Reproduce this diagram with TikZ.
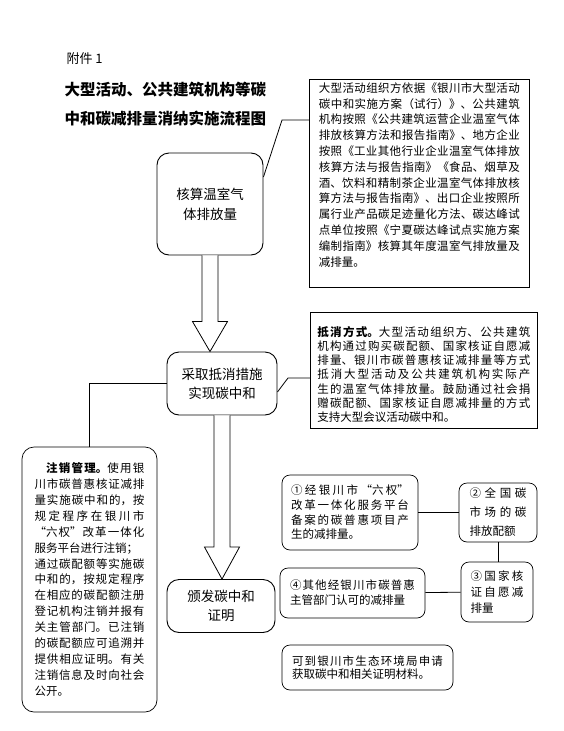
\documentclass[tikz,border=0pt]{standalone}
\usepackage{fontspec}
\setmainfont{Noto Sans CJK SC}
\usetikzlibrary{calc}

\XeTeXlinebreaklocale "zh"
\XeTeXlinebreakskip=0pt plus 1pt

\newcommand\notefont[1]{\fontsize{11.5}{#1}\selectfont}
\newcommand\padbottom[1]{\par\vskip#1\hrule height 0pt width 0pt}

\begin{document}
\begin{tikzpicture}[x=1pt, y=-1pt,
    stage/.style={draw, line width=0.9pt, rounded corners=12pt, align=center,
        font=\fontsize{13.5}{20}\selectfont, inner sep=0pt},
    note/.style={draw, line width=0.7pt, align=justify, inner ysep=0pt},
    smallbox/.style={note, rounded corners=8pt},
    link/.style={line width=0.8pt},
    hollow/.style={draw, line width=0.8pt, fill=white}]

    \useasboundingbox (0,0) rectangle (563,731);

    % Title
    \node[anchor=west, font=\fontsize{13}{15}\selectfont] (annex) at (63,59) {附件 1};
    \node[anchor=west, align=left, font=\bfseries\fontsize{15.5}{29}\selectfont] (title) at (61,104)
        {大型活动、公共建筑机构等碳\\中和碳减排量消纳实施流程图};

    % Main steps
    \node[stage, minimum width=106pt, minimum height=102pt] (account) at (210,204) {核算温室气\\体排放量};
    \node[stage, minimum width=110pt, minimum height=63pt, font=\fontsize{13.5}{19}\selectfont] (offset) at (222,383.5) {采取抵消措施\\实现碳中和};
    \node[stage, minimum width=108pt, minimum height=53pt, font=\fontsize{13.5}{19}\selectfont] (cert) at (221,606) {颁发碳中和\\证明};

    % Notes
    \node[note, anchor=north west, text width=201pt, inner xsep=9.5pt, minimum height=208pt, font=\notefont{15.8}] (accountnote) at (309,79)
        {大型活动组织方依据《银川市大型活动\linebreak
        碳中和实施方案（试行）》、公共建筑\linebreak
        机构按照《公共建筑运营企业温室气体\linebreak
        排放核算方法和报告指南》、地方企业\linebreak
        按照《工业其他行业企业温室气体排放\linebreak
        核算方法与报告指南》《食品、烟草及\linebreak
        酒、饮料和精制茶企业温室气体排放核\linebreak
        算方法与报告指南》、出口企业按照所\linebreak
        属行业产品碳足迹量化方法、碳达峰试\linebreak
        点单位按照《宁夏碳达峰试点实施方案\linebreak
        编制指南》核算其年度温室气排放量及\linebreak
        减排量。\padbottom{17pt}};
    \node[note, anchor=north west, text width=213pt, inner xsep=7pt, minimum height=116pt, font=\notefont{14.2}] (offsetnote) at (310,312)
        {\textbf{抵消方式。}大型活动组织方、公共建筑\linebreak
        机构通过购买碳配额、国家核证自愿减\linebreak
        排量、银川市碳普惠核证减排量等方式\linebreak
        抵消大型活动及公共建筑机构实际产\linebreak
        生的温室气体排放量。鼓励通过社会捐\linebreak
        赠碳配额、国家核证自愿减排量的方式\linebreak
        支持大型会议活动碳中和。\padbottom{-8pt}};
    \node[note, rounded corners=12pt, text width=110pt, inner xsep=12.5pt, minimum height=265pt, font=\notefont{15.9}] (cancel) at (89.5,579.5)
        {\hspace*{1em}\textbf{注销管理。}使用银\linebreak
        川市碳普惠核证减排\linebreak
        量实施碳中和的，按\linebreak
        规定程序在银川市\linebreak
        “六权”改革一体化\linebreak
        服务平台进行注销；\hfil\break
        通过碳配额等实施碳\linebreak
        中和的，按规定程序\linebreak
        在相应的碳配额注册\linebreak
        登记机构注销并报有\linebreak
        关主管部门。已注销\linebreak
        的碳配额应可追溯并\linebreak
        提供相应证明。有关\linebreak
        注销信息及时向社会\linebreak
        公开。};

    % Sources of reductions
    \node[smallbox, text width=118pt, inner xsep=9pt, minimum height=75pt, font=\notefont{14.7}] (src1) at (350,512.5)
        {①经银川市“六权”\linebreak
        改革一体化服务平台\linebreak
        备案的碳普惠项目产\linebreak
        生的减排量。};
    \node[smallbox, text width=57pt, inner xsep=10.5pt, minimum height=59pt, font=\notefont{19}] (src2) at (498,512.5)
        {②全国碳\linebreak 市场的碳\linebreak 排放配额};
    \node[smallbox, text width=53pt, inner xsep=9.5pt, minimum height=60pt, font=\notefont{16}] (src3) at (497,592)
        {③国家核\linebreak 证自愿减\linebreak 排量};
    \node[smallbox, text width=125pt, inner xsep=10pt, minimum height=50pt, font=\notefont{15}] (src4) at (352.5,593)
        {④其他经银川市碳普惠\linebreak 主管部门认可的减排量};
    \node[smallbox, text width=151pt, inner xsep=10pt, minimum height=45pt, font=\notefont{13.5}] (apply) at (367.5,667.5)
        {可到银川市生态环境局申请\linebreak 获取碳中和相关证明材料。};

    % Hollow arrows between steps
    \draw[hollow] let \p1=(account.south), \p2=(offset.north) in
        ({\x1-8pt},\y1) -- ({\x1-8pt},{\y2+30pt}) -- ({\x1-17.5pt},{\y2+30pt}) -- (\x1,\y2)
        -- ({\x1+17.5pt},{\y2+30pt}) -- ({\x1+8pt},{\y2+30pt}) -- ({\x1+8pt},\y1);
    \draw[hollow] let \p1=(offset.south), \p2=(cert.north) in
        ({\x1-8pt},\y1) -- ({\x1-8pt},{\y2+32pt}) -- ({\x1-17.5pt},{\y2+32pt}) -- (\x1,\y2)
        -- ({\x1+17.5pt},{\y2+32pt}) -- ({\x1+8pt},{\y2+32pt}) -- ({\x1+8pt},\y1);

    % Connectors
    \coordinate (k1) at (282,120);
    \coordinate (k2) at (288,378);
    \draw[link] ([yshift=27pt]account.east) -- (k1) -- (k1 -| accountnote.west);
    \draw[link] ([yshift=-8.5pt]offset.east) -- (k2) -- (k2 -| offsetnote.west);
    \draw[link] (offset.west) -| (cancel.north);
    \draw[link] (src1) -- (src2);
    \draw[link] (src2.south) -- (src2.south |- src3.north);
    \draw[link] (src4) -- (src3);
\end{tikzpicture}
\end{document}
